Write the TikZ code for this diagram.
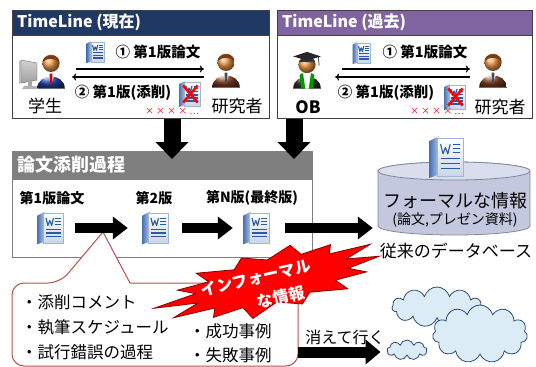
\documentclass[tikz,border=0pt]{standalone}
\usepackage{fontspec}
\setmainfont{Noto Sans CJK JP}
\usetikzlibrary{arrows.meta,shapes.symbols,positioning}

\definecolor{nowblue}{RGB}{32,56,100}
\definecolor{pastpurple}{RGB}{128,100,162}
\definecolor{procgray}{RGB}{127,127,127}
\definecolor{docblue}{RGB}{40,90,170}
\definecolor{skin}{RGB}{240,150,70}
\definecolor{hair}{RGB}{120,60,20}
\definecolor{suitblue}{RGB}{40,70,180}
\definecolor{suitbrown}{RGB}{140,70,40}
\definecolor{notered}{RGB}{185,80,75}
\definecolor{dbbody}{RGB}{196,200,222}
\definecolor{dbtop}{RGB}{218,221,236}
\definecolor{dbline}{RGB}{130,135,160}
\definecolor{cloudfill}{RGB}{219,236,246}
\definecolor{cloudline}{RGB}{45,75,125}

\newcommand{\fsz}[1]{\fontsize{#1}{#1}\selectfont}

\tikzset{
  panel/.style={draw=black!75, line width=.8pt, fill=white, inner sep=0, anchor=north west},
  headtext/.style={font=\bfseries\fsz{16}, text=white, anchor=west, inner sep=0},
  who/.style={minimum width=26pt, minimum height=32pt, inner sep=0},
  whotext/.style={font=\fsz{17}, inner sep=0},
  msgtext/.style={font=\bfseries\fsz{14.5}, inner sep=0},
  msg/.style={line width=1.2pt, -{To[length=4pt,width=7pt]}},
  docslot/.style={minimum width=30pt, minimum height=32pt, inner sep=0},
  stage/.style={font=\bfseries\fsz{14}, inner sep=0},
  fat/.style={line width=10pt, -{Triangle[length=15pt,width=22pt]}},
  drop/.style={line width=17pt, -{Triangle[length=17pt,width=32pt]}},
  item/.style={font=\fsz{16.5}, anchor=west, inner sep=0},
  burst/.style={fill=red, draw=red!55!black, line width=.8pt, line join=miter},
  bursttext/.style={text=white, font=\bfseries\fsz{16}, inner sep=0, rotate=13},
  puff/.style={cloud, cloud puffs=11, aspect=2, draw=cloudline, fill=cloudfill, line width=.8pt, inner sep=0},
  % word document icon
  pics/wordicon/.style={code={
    \shade[left color=docblue!85, right color=docblue!35] (-11,-10) -- (-5,-13) -- (-5,11) -- (-11,13) -- cycle;
    \shade[top color=white, bottom color=docblue!25, draw=docblue!45, line width=.3pt] (-6,-12) rectangle (10,12);
    \draw[docblue, line width=1.1pt, line join=round] (-4,-8) -- (-2.5,-2) -- (-1,-6) -- (0.5,-2) -- (2,-8);
    \foreach \yy in {-8,-5.5,-3} \draw[docblue, line width=.9pt] (3.5,\yy) -- (8,\yy);
    \foreach \yy in {1,4,7} \draw[docblue, line width=1.1pt] (-4,\yy) -- (8,\yy);
  }},
  pics/badicon/.style={code={
    \pic {wordicon};
    \draw[red, line width=2.6pt] (-8,-10) -- (9,10) (9,-10) -- (-8,10);
  }},
  % people
  pics/person/.style n args={2}{code={
    \shade[ball color=#1] (-12,11) .. controls (-12,-3) and (12,-3) .. (12,11) -- cycle;
    \fill[white] (-3.5,-2.5) -- (3.5,-2.5) -- (0,7) -- cycle;
    \fill[#2] (-1.3,-2) -- (1.3,-2) -- (1,6) -- (0,8) -- (-1,6) -- cycle;
    \shade[ball color=skin] (0,-11) circle (7.5);
    \fill[hair] (-7.4,-12) .. controls (-7,-20) and (7,-20) .. (7.4,-12) .. controls (4,-16) and (-4,-16) .. cycle;
  }},
  pics/graduate/.style={code={
    \shade[ball color=black!75] (-12,11) .. controls (-12,-3) and (12,-3) .. (12,11) -- cycle;
    \fill[white] (-4,-2.5) -- (4,-2.5) -- (2,11) -- (-2,11) -- cycle;
    \fill[green!60!black] (-6.5,-1) -- (-3.5,-2.5) -- (-1.5,11) -- (-5,11) -- cycle;
    \fill[green!60!black] (6.5,-1) -- (3.5,-2.5) -- (1.5,11) -- (5,11) -- cycle;
    \shade[ball color=skin] (0,-10) circle (7.5);
    \fill[black!80] (-7,-12) .. controls (-6,-17) and (6,-17) .. (7,-12) -- cycle;
    \fill[black!85] (-12,-17) -- (0,-21) -- (12,-17) -- (0,-13.5) -- cycle;
    \draw[black!85, line width=.7pt] (10,-17) -- (10.5,-9);
  }},
  pics/monitor/.style={code={
    \shade[top color=gray!35, bottom color=gray!75, draw=gray!80!black, line width=.4pt]
      (-10,-13) -- (6,-10) -- (6,7) -- (-10,10) -- cycle;
    \fill[gray!55] (-10,-13) -- (-12,-12) -- (-12,11) -- (-10,10) -- cycle;
    \fill[gray!70] (-3,8) rectangle (1,14);
    \fill[gray!60] (-9,16) -- (7,16) -- (5,13) -- (-7,13) -- cycle;
  }},
}

\begin{document}
\begin{tikzpicture}[x=1pt,y=-1pt]
\useasboundingbox (0,0) rectangle (536,367);

% timeline panels
\node[panel, minimum width=257pt, minimum height=108pt] (now) at (12,10) {};
\filldraw[fill=nowblue, draw=black!75, line width=.8pt] (now.north west) rectangle ([yshift=-25pt]now.north east);
\node[headtext] (nowhead) at (17,22.5) {TimeLine (現在)};

\node[panel, minimum width=255pt, minimum height=108pt] (past) at (277,10) {};
\filldraw[fill=pastpurple, draw=black!75, line width=.8pt] (past.north west) rectangle ([yshift=-25pt]past.north east);
\node[headtext] (pasthead) at (282,22.5) {TimeLine (過去)};

% who is talking
\node[who] (stu) at (51,76) {};
\node[who] (res) at (226,75) {};
\node[who] (ob) at (307,76) {};
\node[who] (res2) at (493,75) {};
\pic[scale=1.15] at (stu) {person={suitblue}{red!80!black}};
\pic at (31,73) {monitor};
\pic[scale=1.15] at (res) {person={suitbrown}{black!70}};
\pic[scale=1.15] at (ob) {graduate};
\pic[scale=1.15] at (res2) {person={suitbrown}{black!70}};

\node[whotext] (stulab) at (45,106) {学生};
\node[whotext] (reslab) at (237,106) {研究者};
\node[whotext, font=\bfseries\fsz{17}] (oblab) at (308,107) {OB};
\node[whotext] (res2lab) at (500,107) {研究者};

% drafts going back and forth
\pic[scale=.85] at (96,52) {wordicon};
\node[msgtext] (send1) at (158,52) {① 第1版論文};
\draw[msg, shorten <=12pt, shorten >=9pt] ([yshift=7pt]stu.east) -- ([yshift=6pt]res.west);
\draw[msg, shorten <=9pt, shorten >=8pt] ([yshift=-2pt]res.west) -- ([yshift=-1pt]stu.east);
\node[msgtext] (back1) at (123,93) {② 第1版(添削)};
\pic[scale=.85] at (190,94) {badicon};
\node[font=\fsz{9}, text=red, inner sep=0] (ng1) at (172,111) {× × × × …};

\pic[scale=.85] at (362,53) {wordicon};
\node[msgtext] (send2) at (425,52) {① 第1版論文};
\draw[msg, shorten <=22pt, shorten >=10pt] ([yshift=7pt]ob.east) -- ([yshift=6pt]res2.west);
\draw[msg, shorten <=10pt, shorten >=15pt] ([yshift=-2pt]res2.west) -- ([yshift=-1pt]ob.east);
\node[msgtext] (back2) at (386,93) {② 第1版(添削)};
\pic[scale=.85] at (455,97) {badicon};
\node[font=\fsz{9}, text=red, inner sep=0] (ng2) at (437,111) {× × × × …};

% revision process
\node[panel, draw=procgray, minimum width=300pt, minimum height=106pt] (proc) at (12,151) {};
\filldraw[fill=procgray, draw=procgray, line width=.8pt] (proc.north west) rectangle ([yshift=-28pt]proc.north east);
\node[headtext, font=\bfseries\fsz{18}] (prochead) at (17,165) {論文添削過程};

\coordinate (drop1) at (172,159);
\coordinate (drop2) at (294,159);
\draw[drop] (now.south -| drop1) -- (drop1);
\draw[drop] (past.south -| drop2) -- (drop2);

% callout with the informal stuff
\draw[fill=white, draw=notered, line width=1pt, rounded corners=12pt]
  (12,320) -- (12,283) -- (60,283) [sharp corners] -- (103,232) -- (130,283)
  [rounded corners=12pt] -- (298,283) -- (298,366) -- (12,366) -- cycle;

\node[stage] (v1lab) at (52,198) {第1版論文};
\node[stage] (v2lab) at (154,198) {第2版};
\node[stage] (vNlab) at (252,198) {第N版(最終版)};
\node[docslot] (v1) at (51,228) {};
\node[docslot] (v2) at (156,228) {};
\node[docslot] (vN) at (257,228) {};
\pic[scale=1.25] at (v1) {wordicon};
\pic[scale=1.25] at (v2) {wordicon};
\pic[scale=1.25] at (vN) {wordicon};
\draw[fat, shorten <=9pt, shorten >=13pt] (v1) -- (v2);
\draw[fat, shorten <=11pt, shorten >=9pt] (v2) -- (vN);

% database
\filldraw[fill=dbbody, draw=dbline, line width=.8pt] (378,171) -- (378,226)
  arc[start angle=180, end angle=0, x radius=76, y radius=9] -- (530,171)
  arc[start angle=0, end angle=-180, x radius=76, y radius=9] -- cycle;
\filldraw[fill=dbtop, draw=dbline, line width=.8pt] (454,171) ellipse [x radius=76, y radius=9];
\pic[scale=1.6] at (447,157) {wordicon};
\node[font=\fsz{18}, inner sep=0] (db) at (455,201) {フォーマルな情報};
\node[font=\fsz{14}, inner sep=0, below=3pt of db] (dbsub) {(論文,プレゼン資料)};
\node[font=\fsz{17}, inner sep=0] (dbname) at (456,251) {従来のデータベース};
\draw[fat, shorten <=13pt, shorten >=10pt] (vN) -- (vN -| db.west);

% the red burst
\begin{scope}[shift={(272,281)}, rotate=13]
  \filldraw[burst] (110,0)
    \foreach \a/\f in {12.9/.72, 25.7/.95, 38.6/.72, 51.4/1.05, 64.3/.72, 77.1/1, 90/.72,
      102.9/1.1, 115.7/.72, 128.6/.95, 141.4/.72, 154.3/1.05, 167.1/.72, 180/1.1, 192.9/.72,
      205.7/.95, 218.6/.72, 231.4/1.05, 244.3/.72, 257.1/1, 270/.72, 282.9/1.05, 295.7/.72,
      308.6/.95, 321.4/.72, 334.3/1.05, 347.1/.72}
      { -- ({110*\f*cos(\a)},{30*\f*sin(\a)}) } -- cycle;
\end{scope}
\node[bursttext] (info1) at (256,278) {インフォーマル};
\node[bursttext] (info2) at (281,297) {な情報};

\node[item] (i1) at (21,302) {・添削コメント};
\node[item] (i2) at (21,327) {・執筆スケジュール};
\node[item] (i3) at (21,352) {・試行錯誤の過程};
\node[item] (i4) at (189,331) {・成功事例};
\node[item] (i5) at (189,355) {・失敗事例};

% fading away
\node[puff, minimum width=90pt, minimum height=40pt] (c1) at (437,307) {};
\node[puff, minimum width=95pt, minimum height=58pt] (c2) at (480,334) {};
\node[puff, minimum width=40pt, minimum height=20pt, cloud puffs=9] (c3) at (407,350) {};
\coordinate (fade) at (298,352);
\draw[fat, line width=11pt, -{Triangle[length=15pt,width=24pt]}, shorten >=6pt] (fade) -- (fade -| c3.west);
\node[font=\fsz{16}, inner sep=0] (fadetext) at (345,337) {消えて行く};

\end{tikzpicture}
\end{document}
